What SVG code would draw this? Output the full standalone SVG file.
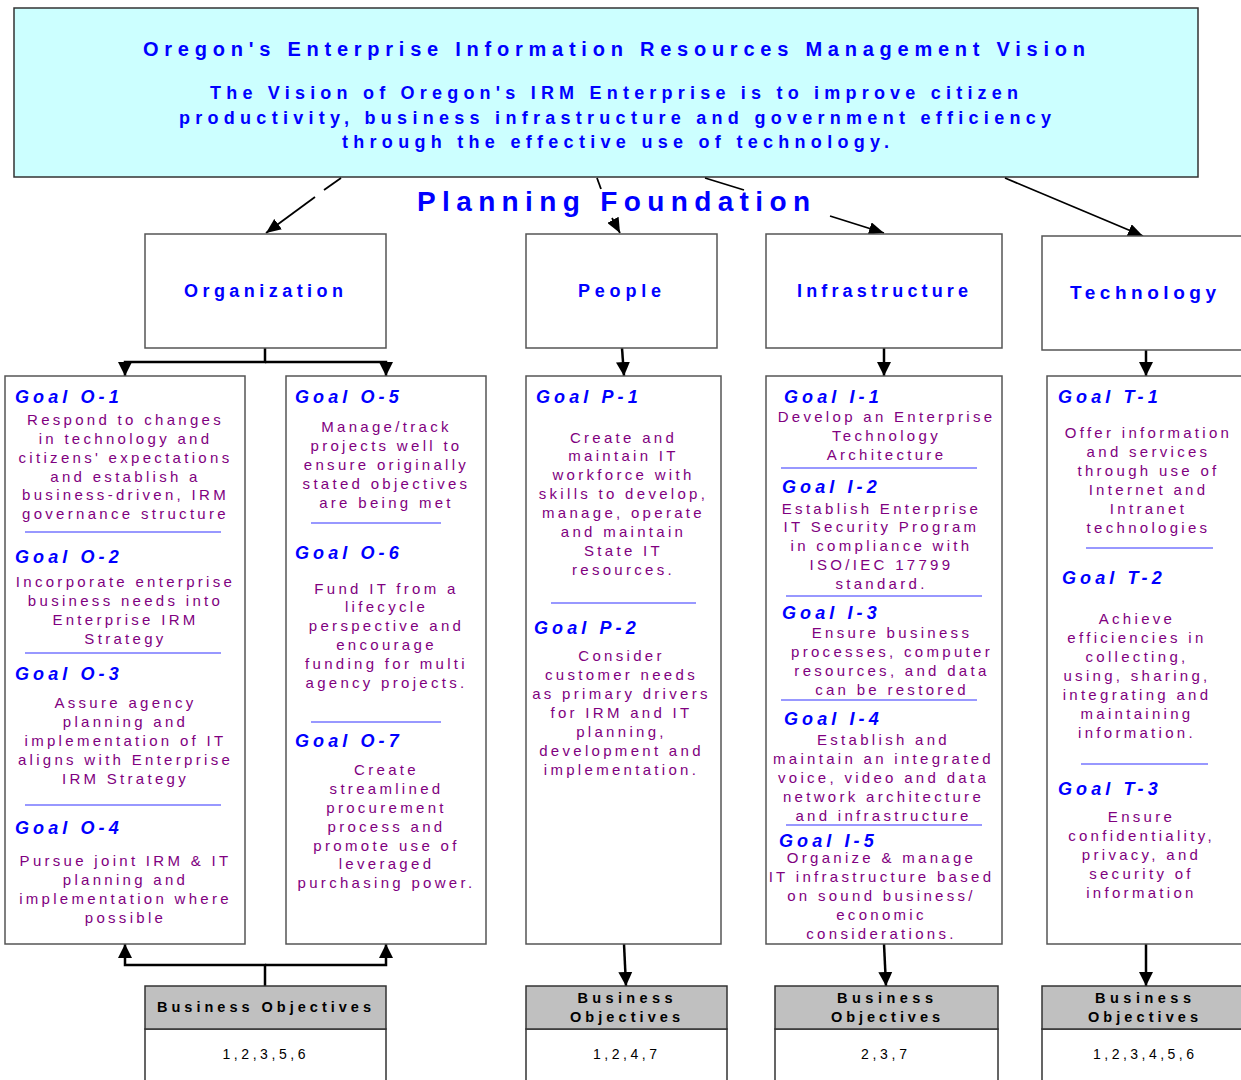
<svg xmlns="http://www.w3.org/2000/svg" width="1241" height="1080" viewBox="0 0 1241 1080">
<defs>
<style>
text{font-family:"Liberation Sans",Arial,sans-serif}
.box{fill:#fff;stroke:#555;stroke-width:1.5}
.top{fill:#ccffff;stroke:#333;stroke-width:1.5}
.h{font-weight:bold;fill:#0000ff;text-anchor:middle}
.g{font-weight:bold;font-style:italic;font-size:18px;fill:#0000ff;letter-spacing:4.1px}
.d{font-size:15px;fill:#800080;letter-spacing:3.3px;text-anchor:middle}
.sep{stroke:#3333ff;stroke-width:1.2}
.con{stroke:#000;fill:none;stroke-width:2.5}
.thin{stroke:#000;fill:none;stroke-width:1.8}
.bohd{fill:#c0c0c0;stroke:#333;stroke-width:1.5}
.bob{fill:#fff;stroke:#333;stroke-width:1.5}
.bt{font-weight:bold;font-size:14.5px;fill:#000;text-anchor:middle}
.n{font-size:14px;fill:#000;text-anchor:middle}
</style>
<marker id="ah" viewBox="0 0 14 12" refX="14" refY="6" markerWidth="15" markerHeight="13" markerUnits="userSpaceOnUse" orient="auto"><path d="M0,0 L14,6 L0,12 z" fill="#000"/></marker>
<marker id="ahb" viewBox="0 0 14 14" refX="14" refY="7" markerWidth="14" markerHeight="15" markerUnits="userSpaceOnUse" orient="auto"><path d="M0,0 L14,7 L0,14 z" fill="#000"/></marker>
</defs>

<g id="vision">
<rect class="top" x="14" y="8" width="1184" height="169"/>
<text class="h" x="614" y="56" font-size="20" textLength="942" lengthAdjust="spacing">Oregon's Enterprise Information Resources Management Vision</text>
<text class="h" x="614" y="99" font-size="18" textLength="808" lengthAdjust="spacing">The Vision of Oregon's IRM Enterprise is to improve citizen</text>
<text class="h" x="615" y="124" font-size="18" textLength="872" lengthAdjust="spacing">productivity, business infrastructure and government efficiency</text>
<text class="h" x="615.5" y="148" font-size="18" textLength="547" lengthAdjust="spacing">through the effective use of technology.</text>
</g>

<g id="planning-foundation">
<text class="h" x="613.5" y="211" font-size="28" textLength="393" lengthAdjust="spacing">Planning Foundation</text>
</g>

<g id="connectors">
<path class="thin" d="M341,178 L324,190"/>
<path class="thin" d="M315,197 L266,233" marker-end="url(#ah)"/>
<path class="thin" d="M597,178 L601,189"/>
<path class="thin" d="M612,218 L620,233" marker-end="url(#ah)"/>
<path class="thin" d="M705,178 L744,190"/>
<path class="thin" d="M830,216 L884,233" marker-end="url(#ah)"/>
<path class="thin" d="M1005,178 L1143,236" marker-end="url(#ah)"/>

<path class="con" d="M265,348 V362 H125 V376" marker-end="url(#ahb)"/>
<path class="con" d="M265,362 H386 V376" marker-end="url(#ahb)"/>
<path class="con" d="M622,348 L624,376" marker-end="url(#ahb)"/>
<path class="con" d="M884,348 V376" marker-end="url(#ahb)"/>
<path class="con" d="M1146,350 V376" marker-end="url(#ahb)"/>

<path class="con" d="M265,986 V965 H125 V944" marker-end="url(#ahb)"/>
<path class="con" d="M265,965 H386 V944" marker-end="url(#ahb)"/>
<path class="con" d="M624,944 L626,986" marker-end="url(#ahb)"/>
<path class="con" d="M884,944 L886,986" marker-end="url(#ahb)"/>
<path class="con" d="M1146,944 V986" marker-end="url(#ahb)"/>
</g>

<g id="organization">
<rect class="box" x="145" y="234" width="241" height="114"/>
<text class="h" x="263.5" y="297" font-size="18" textLength="159" lengthAdjust="spacing">Organization</text>
</g>
<g id="people">
<rect class="box" x="526" y="234" width="191" height="114"/>
<text class="h" x="619.5" y="297" font-size="18" textLength="83" lengthAdjust="spacing">People</text>
</g>
<g id="infrastructure">
<rect class="box" x="766" y="234" width="236" height="114"/>
<text class="h" x="882.5" y="297" font-size="18" textLength="171" lengthAdjust="spacing">Infrastructure</text>
</g>
<g id="technology">
<rect class="box" x="1042" y="236" width="230" height="114"/>
<text class="h" x="1143" y="299" font-size="19" textLength="146" lengthAdjust="spacing">Technology</text>
</g>

<g id="goals-o1-o4">
<rect class="box" x="5" y="376" width="240" height="568"/>
<text class="g" x="15" y="403">Goal O-1</text>
<text class="d"><tspan x="125.5" y="425">Respond to changes</tspan><tspan x="125.5" y="444">in technology and</tspan><tspan x="125.5" y="463">citizens' expectations</tspan><tspan x="125.5" y="482">and establish a</tspan><tspan x="125.5" y="500">business-driven, IRM</tspan><tspan x="125.5" y="519">governance structure</tspan></text>
<line class="sep" x1="25" y1="532" x2="221" y2="532"/>
<text class="g" x="15" y="563">Goal O-2</text>
<text class="d"><tspan x="125.5" y="587">Incorporate enterprise</tspan><tspan x="125.5" y="606">business needs into</tspan><tspan x="125.5" y="625">Enterprise IRM</tspan><tspan x="125.5" y="644">Strategy</tspan></text>
<line class="sep" x1="25" y1="653" x2="221" y2="653"/>
<text class="g" x="15" y="680">Goal O-3</text>
<text class="d"><tspan x="125.5" y="708">Assure agency</tspan><tspan x="125.5" y="727">planning and</tspan><tspan x="125.5" y="746">implementation of IT</tspan><tspan x="125.5" y="765">aligns with Enterprise</tspan><tspan x="125.5" y="784">IRM Strategy</tspan></text>
<line class="sep" x1="25" y1="805" x2="221" y2="805"/>
<text class="g" x="15" y="834">Goal O-4</text>
<text class="d"><tspan x="125.5" y="866">Pursue joint IRM &amp; IT</tspan><tspan x="125.5" y="885">planning and</tspan><tspan x="125.5" y="904">implementation where</tspan><tspan x="125.5" y="923">possible</tspan></text>
</g>

<g id="goals-o5-o7">
<rect class="box" x="286" y="376" width="200" height="568"/>
<text class="g" x="295" y="403">Goal O-5</text>
<text class="d"><tspan x="386.5" y="432">Manage/track</tspan><tspan x="386.5" y="451">projects well to</tspan><tspan x="386.5" y="470">ensure originally</tspan><tspan x="386.5" y="489">stated objectives</tspan><tspan x="386.5" y="508">are being met</tspan></text>
<line class="sep" x1="311" y1="523" x2="441" y2="523"/>
<text class="g" x="295" y="559">Goal O-6</text>
<text class="d"><tspan x="386.5" y="594">Fund IT from a</tspan><tspan x="386.5" y="612">lifecycle</tspan><tspan x="386.5" y="631">perspective and</tspan><tspan x="386.5" y="650">encourage</tspan><tspan x="386.5" y="669">funding for multi</tspan><tspan x="386.5" y="688">agency projects.</tspan></text>
<line class="sep" x1="311" y1="722" x2="441" y2="722"/>
<text class="g" x="295" y="747">Goal O-7</text>
<text class="d"><tspan x="386.5" y="775">Create</tspan><tspan x="386.5" y="794">streamlined</tspan><tspan x="386.5" y="813">procurement</tspan><tspan x="386.5" y="832">process and</tspan><tspan x="386.5" y="851">promote use of</tspan><tspan x="386.5" y="869">leveraged</tspan><tspan x="386.5" y="888">purchasing power.</tspan></text>
</g>

<g id="goals-people">
<rect class="box" x="526" y="376" width="195" height="568"/>
<text class="g" x="536" y="403">Goal P-1</text>
<text class="d"><tspan x="623.5" y="443">Create and</tspan><tspan x="623.5" y="461">maintain IT</tspan><tspan x="623.5" y="480">workforce with</tspan><tspan x="623.5" y="499">skills to develop,</tspan><tspan x="623.5" y="518">manage, operate</tspan><tspan x="623.5" y="537">and maintain</tspan><tspan x="623.5" y="556">State IT</tspan><tspan x="623.5" y="575">resources.</tspan></text>
<line class="sep" x1="551" y1="603" x2="696" y2="603"/>
<text class="g" x="534" y="634">Goal P-2</text>
<text class="d"><tspan x="621.5" y="661">Consider</tspan><tspan x="621.5" y="680">customer needs</tspan><tspan x="621.5" y="699">as primary drivers</tspan><tspan x="621.5" y="718">for IRM and IT</tspan><tspan x="621.5" y="737">planning,</tspan><tspan x="621.5" y="756">development and</tspan><tspan x="621.5" y="775">implementation.</tspan></text>
</g>

<g id="goals-infrastructure">
<rect class="box" x="766" y="376" width="236" height="568"/>
<text class="g" x="784" y="403">Goal I-1</text>
<text class="d"><tspan x="886.5" y="422">Develop an Enterprise</tspan><tspan x="886.5" y="441">Technology</tspan><tspan x="886.5" y="460">Architecture</tspan></text>
<line class="sep" x1="781" y1="468" x2="977" y2="468"/>
<text class="g" x="782" y="493">Goal I-2</text>
<text class="d"><tspan x="881.5" y="514">Establish Enterprise</tspan><tspan x="881.5" y="532">IT Security Program</tspan><tspan x="881.5" y="551">in compliance with</tspan><tspan x="881.5" y="570">ISO/IEC 17799</tspan><tspan x="881.5" y="589">standard.</tspan></text>
<line class="sep" x1="786" y1="596" x2="982" y2="596"/>
<text class="g" x="782" y="619">Goal I-3</text>
<text class="d"><tspan x="892" y="638">Ensure business</tspan><tspan x="892" y="657">processes, computer</tspan><tspan x="892" y="676">resources, and data</tspan><tspan x="892" y="695">can be restored</tspan></text>
<line class="sep" x1="781" y1="700" x2="977" y2="700"/>
<text class="g" x="784" y="725">Goal I-4</text>
<text class="d"><tspan x="883.5" y="745">Establish and</tspan><tspan x="883.5" y="764">maintain an integrated</tspan><tspan x="883.5" y="783">voice, video and data</tspan><tspan x="883.5" y="802">network architecture</tspan><tspan x="883.5" y="821">and infrastructure</tspan></text>
<line class="sep" x1="786" y1="825" x2="982" y2="825"/>
<text class="g" x="779" y="847">Goal I-5</text>
<text class="d"><tspan x="881.5" y="863">Organize &amp; manage</tspan><tspan x="881.5" y="882">IT infrastructure based</tspan><tspan x="881.5" y="901">on sound business/</tspan><tspan x="881.5" y="920">economic</tspan><tspan x="881.5" y="939">considerations.</tspan></text>
</g>

<g id="goals-technology">
<rect class="box" x="1047" y="376" width="230" height="568"/>
<text class="g" x="1058" y="403">Goal T-1</text>
<text class="d"><tspan x="1148.5" y="438">Offer information</tspan><tspan x="1148.5" y="457">and services</tspan><tspan x="1148.5" y="476">through use of</tspan><tspan x="1148.5" y="495">Internet and</tspan><tspan x="1148.5" y="514">Intranet</tspan><tspan x="1148.5" y="533">technologies</tspan></text>
<line class="sep" x1="1086" y1="548" x2="1213" y2="548"/>
<text class="g" x="1062" y="584">Goal T-2</text>
<text class="d"><tspan x="1137" y="624">Achieve</tspan><tspan x="1137" y="643">efficiencies in</tspan><tspan x="1137" y="662">collecting,</tspan><tspan x="1137" y="681">using, sharing,</tspan><tspan x="1137" y="700">integrating and</tspan><tspan x="1137" y="719">maintaining</tspan><tspan x="1137" y="738">information.</tspan></text>
<line class="sep" x1="1081" y1="764" x2="1208" y2="764"/>
<text class="g" x="1058" y="795">Goal T-3</text>
<text class="d"><tspan x="1141.5" y="822">Ensure</tspan><tspan x="1141.5" y="841">confidentiality,</tspan><tspan x="1141.5" y="860">privacy, and</tspan><tspan x="1141.5" y="879">security of</tspan><tspan x="1141.5" y="898">information</tspan></text>
</g>

<g id="bo-organization">
<rect class="bob" x="145" y="1029" width="241" height="60"/>
<rect class="bohd" x="145" y="986" width="241" height="43"/>
<text class="bt" x="264" y="1012" textLength="214" lengthAdjust="spacing">Business Objectives</text>
<text class="n" x="264" y="1059" textLength="83" lengthAdjust="spacing">1,2,3,5,6</text>
</g>
<g id="bo-people">
<rect class="bob" x="526" y="1029" width="201" height="60"/>
<rect class="bohd" x="526" y="986" width="201" height="43"/>
<text class="bt" x="625" y="1003" textLength="95" lengthAdjust="spacing">Business</text>
<text class="bt" x="625" y="1022" textLength="110" lengthAdjust="spacing">Objectives</text>
<text class="n" x="625" y="1059" textLength="64" lengthAdjust="spacing">1,2,4,7</text>
</g>
<g id="bo-infrastructure">
<rect class="bob" x="775" y="1029" width="223" height="60"/>
<rect class="bohd" x="775" y="986" width="223" height="43"/>
<text class="bt" x="885" y="1003" textLength="96" lengthAdjust="spacing">Business</text>
<text class="bt" x="885.5" y="1022" textLength="109" lengthAdjust="spacing">Objectives</text>
<text class="n" x="884" y="1059" textLength="46" lengthAdjust="spacing">2,3,7</text>
</g>
<g id="bo-technology">
<rect class="bob" x="1042" y="1029" width="230" height="60"/>
<rect class="bohd" x="1042" y="986" width="230" height="43"/>
<text class="bt" x="1143" y="1003" textLength="96" lengthAdjust="spacing">Business</text>
<text class="bt" x="1143" y="1022" textLength="110" lengthAdjust="spacing">Objectives</text>
<text class="n" x="1143.5" y="1059" textLength="101" lengthAdjust="spacing">1,2,3,4,5,6</text>
</g>
</svg>
